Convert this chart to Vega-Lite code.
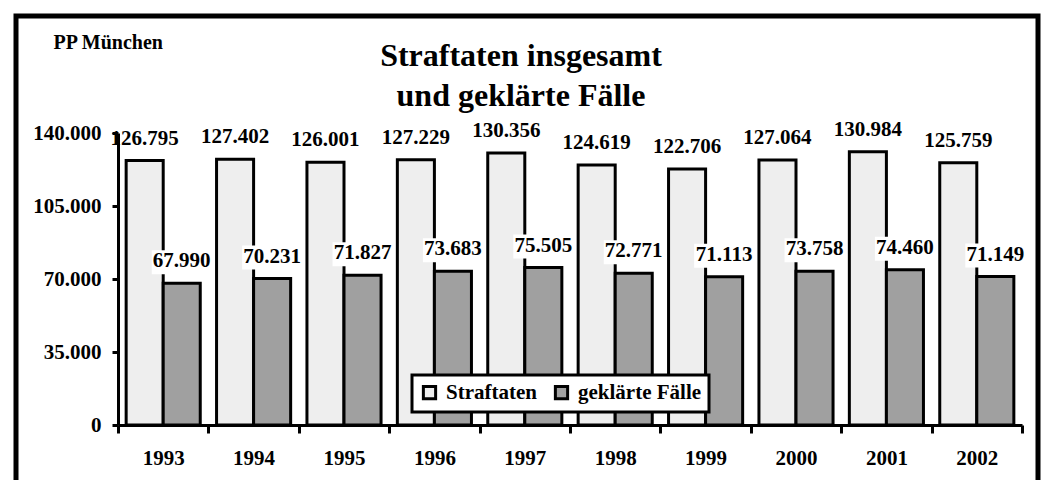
{
  "$schema": "https://vega.github.io/schema/vega-lite/v6.json",
  "width": 1022,
  "height": 475,
  "autosize": "none",
  "padding": {"left": 16, "top": 16, "right": 3, "bottom": 0},
  "background": "white",
  "title": {
    "text": ["Straftaten insgesamt", "und geklärte Fälle"],
    "font": "Liberation Serif",
    "fontSize": 32,
    "fontWeight": "bold",
    "color": "black",
    "lineHeight": 40,
    "anchor": "middle",
    "frame": "group",
    "offset": -97,
    "dx": -6
  },
  "config": {
    "font": "Liberation Serif",
    "locale": {"number": {"decimal": ",", "thousands": ".", "grouping": [3], "currency": ["", " €"]}},
    "view": {"stroke": "black", "strokeWidth": 5},
    "axis": {
      "labelFont": "Liberation Serif",
      "labelFontSize": 21,
      "labelFontWeight": "bold",
      "labelColor": "black",
      "titleFont": "Liberation Serif",
      "domainColor": "black",
      "domainWidth": 3,
      "tickColor": "black",
      "tickWidth": 3,
      "grid": false
    },
    "legend": {
      "orient": "none",
      "legendX": 396,
      "legendY": 359,
      "direction": "horizontal",
      "fillColor": "white",
      "strokeColor": "black",
      "strokeWidth": 3,
      "padding": 7,
      "labelFont": "Liberation Serif",
      "labelFontSize": 21,
      "labelFontWeight": "bold",
      "labelColor": "black",
      "labelOffset": 6,
      "columnPadding": 12,
      "symbolType": "square",
      "symbolSize": 150,
      "symbolStrokeColor": "black",
      "symbolStrokeWidth": 3
    }
  },
  "data": {
    "values": [
      {"year": "1993", "series": "Straftaten", "value": 126795},
      {"year": "1993", "series": "geklärte Fälle", "value": 67990},
      {"year": "1994", "series": "Straftaten", "value": 127402},
      {"year": "1994", "series": "geklärte Fälle", "value": 70231},
      {"year": "1995", "series": "Straftaten", "value": 126001},
      {"year": "1995", "series": "geklärte Fälle", "value": 71827},
      {"year": "1996", "series": "Straftaten", "value": 127229},
      {"year": "1996", "series": "geklärte Fälle", "value": 73683},
      {"year": "1997", "series": "Straftaten", "value": 130356},
      {"year": "1997", "series": "geklärte Fälle", "value": 75505},
      {"year": "1998", "series": "Straftaten", "value": 124619},
      {"year": "1998", "series": "geklärte Fälle", "value": 72771},
      {"year": "1999", "series": "Straftaten", "value": 122706},
      {"year": "1999", "series": "geklärte Fälle", "value": 71113},
      {"year": "2000", "series": "Straftaten", "value": 127064},
      {"year": "2000", "series": "geklärte Fälle", "value": 73758},
      {"year": "2001", "series": "Straftaten", "value": 130984},
      {"year": "2001", "series": "geklärte Fälle", "value": 74460},
      {"year": "2002", "series": "Straftaten", "value": 125759},
      {"year": "2002", "series": "geklärte Fälle", "value": 71149}
    ]
  },
  "encoding": {
    "x": {
      "field": "year",
      "type": "nominal",
      "scale": {"range": [102, 1006], "paddingInner": 0, "paddingOuter": 0},
      "axis": {
        "title": null,
        "offset": -66,
        "tickBand": "extent",
        "tickSize": 8,
        "labelPadding": 14,
        "labelAngle": 0
      }
    },
    "xOffset": {
      "field": "series",
      "type": "nominal",
      "sort": ["Straftaten", "geklärte Fälle"],
      "scale": {"paddingInner": 0, "paddingOuter": 0.22}
    },
    "y": {
      "field": "value",
      "type": "quantitative",
      "scale": {"domain": [0, 140000], "range": [409, 117], "nice": false, "zero": true},
      "axis": {
        "offset": -102,
        "values": [0, 35000, 70000, 105000, 140000],
        "format": ",d",
        "tickSize": 6,
        "labelPadding": 11,
        "title": "PP München",
        "titleAngle": 0,
        "titleAlign": "left",
        "titleBaseline": "alphabetic",
        "titleX": -65,
        "titleY": 32,
        "titleFont": "'Liberation Serif', 'Times New Roman', serif",
        "titleFontSize": 20,
        "titleFontWeight": "bold",
        "titleColor": "black"
      }
    }
  },
  "layer": [
    {
      "mark": {"type": "bar", "stroke": "black", "strokeWidth": 3},
      "encoding": {
        "fill": {
          "field": "series",
          "type": "nominal",
          "sort": ["Straftaten", "geklärte Fälle"],
          "scale": {"domain": ["Straftaten", "geklärte Fälle"], "range": ["#eeeeee", "#a0a0a0"]},
          "legend": {
            "title": null,
            "labelFont": "'Liberation Serif', 'Times New Roman', serif",
            "labelFontSize": 21,
            "labelFontWeight": "bold"
          }
        }
      }
    },
    {
      "transform": [{"filter": "datum.series === 'geklärte Fälle'"}],
      "mark": {"type": "tick", "color": "white", "opacity": 1, "thickness": 24, "size": 60, "yOffset": -21}
    },
    {
      "mark": {
        "type": "text",
        "dy": -16,
        "baseline": "alphabetic",
        "font": "Liberation Serif",
        "fontSize": 21,
        "fontWeight": "bold",
        "color": "black"
      },
      "encoding": {
        "text": {"field": "value", "type": "quantitative", "format": ",d"}
      }
    }
  ]
}
